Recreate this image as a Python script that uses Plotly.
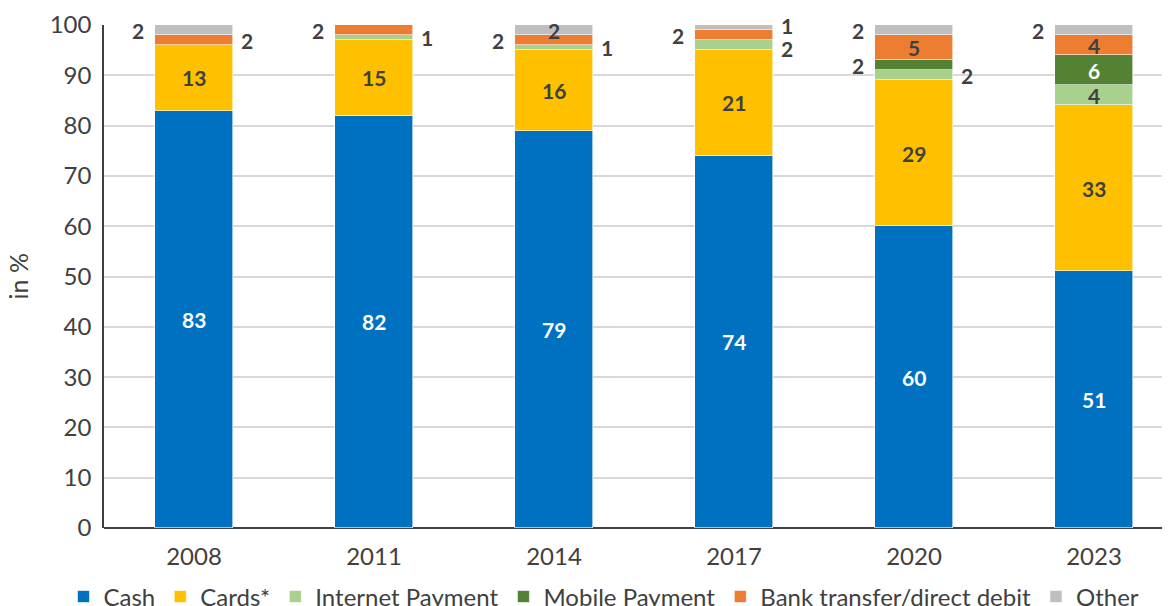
import plotly.graph_objects as go

years = ["2008", "2011", "2014", "2017", "2020", "2023"]
cash = [83, 82, 79, 74, 60, 51]
cards = [13, 15, 16, 21, 29, 33]
internet = [0, 1, 1, 2, 2, 4]
mobile = [0, 0, 0, 0, 2, 6]
bank = [2, 2, 2, 2, 5, 4]
other = [2, 0, 2, 1, 2, 2]

series = [
    ("Cash", cash, "#0070C0"),
    ("Cards*", cards, "#FFC000"),
    ("Internet Payment", internet, "#A9D18E"),
    ("Mobile Payment", mobile, "#548235"),
    ("Bank transfer/direct debit", bank, "#ED7D31"),
    ("Other", other, "#BFBFBF"),
]

# label placement: c = centre of segment, l = left of bar, r = right of bar, "" = none
placement = {
    "Cash": ["c", "c", "c", "c", "c", "c"],
    "Cards*": ["c", "c", "c", "c", "c", "c"],
    "Internet Payment": ["", "r", "r", "r", "r", "c"],
    "Mobile Payment": ["", "", "", "", "l", "c"],
    "Bank transfer/direct debit": ["r", "l", "l", "l", "c", "c"],
    "Other": ["l", "", "c", "r", "l", "l"],
}
label_shift = {("Other", 3): 2, ("Internet Payment", 3): -3}
white_labels = {"Cash", "Mobile Payment"}

FONT = "Lato"
TXT = "#404040"
fig = go.Figure()
for name, vals, color in series:
    fig.add_trace(go.Bar(
        x=list(range(len(years))), y=vals, name=name,
        marker=dict(color=color, line=dict(color="white", width=0.6)),
        width=0.433,
    ))

annotations = []
base = [0] * len(years)
for name, vals, color in series:
    for i, v in enumerate(vals):
        pos = placement[name][i]
        if pos and v > 0:
            yc = base[i] + v / 2
            dx = {"c": 0, "l": -0.31, "r": 0.295}[pos]
            col = "white" if (pos == "c" and name in white_labels) else TXT
            annotations.append(dict(
                x=i + dx, y=yc, xref="x", yref="y", text=f"<b>{v}</b>",
                showarrow=False, xanchor="center", yanchor="middle",
                yshift=label_shift.get((name, i), 0),
                font=dict(family=FONT, size=21, color=col),
            ))
        base[i] += v

# y-axis title
annotations.append(dict(
    text="in %", xref="paper", yref="paper", x=-0.0807, y=0.5,
    xanchor="center", yanchor="middle", textangle=-90, showarrow=False,
    font=dict(family=FONT, size=25, color=TXT),
))

fig.update_layout(
    barmode="stack",
    width=1162, height=598,
    margin=dict(l=96, r=0, t=17, b=78, autoexpand=False),
    paper_bgcolor="white", plot_bgcolor="white",
    font=dict(family=FONT, color=TXT),
    annotations=annotations,
    bargap=0,
    legend=dict(
        orientation="h", x=-0.038, xanchor="left",
        y=-0.137, yanchor="middle", bgcolor="rgba(0,0,0,0)",
        font=dict(family=FONT, size=24, color=TXT),
        traceorder="normal", itemwidth=30,
    ),
    xaxis=dict(
        tickmode="array", tickvals=list(range(len(years))), ticktext=years,
        range=[-0.5, 5.422], showgrid=False, showline=False, ticks="",
        tickfont=dict(family=FONT, size=24, color=TXT),
        zeroline=False, ticklabelstandoff=12, automargin=False,
    ),
    yaxis=dict(
        range=[0, 100], dtick=10, showgrid=True, gridcolor="#D9D9D9", gridwidth=1.5,
        showline=True, linecolor="#404040", linewidth=1.5, ticks="",
        zeroline=True, zerolinecolor="#404040", zerolinewidth=1.5,
        tickfont=dict(family=FONT, size=24, color=TXT), ticklabelstandoff=6,
        automargin=False,
    ),
)

fig.write_html("out.html")
